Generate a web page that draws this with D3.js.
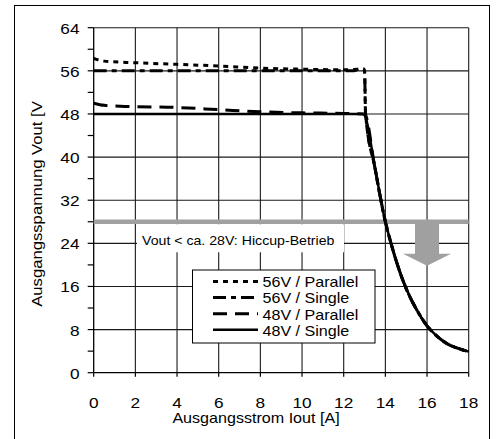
<!DOCTYPE html>
<html><head><meta charset="utf-8">
<script src="https://cdn.jsdelivr.net/npm/d3@7/dist/d3.min.js"></script>
<style>html,body{margin:0;padding:0;background:#fff;}svg{display:block;}</style>
</head><body>
<script>
// ---- data ----
const xTicks = [0,2,4,6,8,10,12,14,16,18];
const yTicks = [0,8,16,24,32,40,48,56,64];
const yMinorTicks = [4,12,20,28,36,44,52,60];
const seriesNames = ["56V / Parallel","56V / Single","48V / Parallel","48V / Single"];
const foldback = [[13.5,38],[14,28],[14.25,24.3],[14.5,21.0],[14.75,18.1],[15,15.6],[15.5,11.7],[16,8.7],[16.5,6.7],[17,5.3],[17.5,4.5],[18,3.9]];
const s56Parallel = [[0,58.3],[0.5,57.8],[2,57.5],[4,57.2],[6,56.9],[8,56.5],[10,56.3],[12,56.2],[12.9,56.3],[13.0,56],[13.05,48]].concat(foldback);
const s56Single = [[0,56],[4,56],[8,56],[12,56],[12.5,56],[12.7,56.3],[12.95,56.4],[13.0,56],[13.05,48]].concat(foldback);
const s48Parallel = [[0,50],[0.5,49.6],[1.5,49.4],[4,49.2],[6,48.8],[8,48.4],[10,48.2],[12,48.1],[13.0,48]].concat(foldback);
const s48Single = [[0,48],[4,48],[8,48],[12,48],[12.9,48],[13.0,47.8]].concat(foldback);
const hiccupLevel = 28;
const arrowX = 16;
const annotationText = "Vout < ca. 28V: Hiccup-Betrieb";
const xTitle = "Ausgangsstrom Iout [A]";
const yTitle = "Ausgangsspannung Vout [V";

// ---- drawing ----
const W = 496, H = 439;
const svg = d3.select("body").append("svg").attr("width", W).attr("height", H);
const FONT = "'Liberation Sans', Arial, sans-serif";
const SX = 1.15;
const x = d3.scaleLinear().domain([0,18]).range([93.7,468.7]);
const y = d3.scaleLinear().domain([0,64]).range([372.7,27.7]);

function txt(px, py, s, size, anchor, rot) {
  return svg.append("text")
    .attr("transform", `translate(${px},${py}) rotate(${rot||0}) scale(${SX},1)`)
    .attr("font-family", FONT).attr("font-size", size)
    .attr("text-anchor", anchor || "start").attr("fill", "#000").text(s);
}

// frame
svg.append("rect").attr("x",14.5).attr("y",5.5).attr("width",475).attr("height",440)
  .attr("fill","none").attr("stroke","#000").attr("stroke-width",1);

// grid
const grid = svg.append("g").attr("stroke","#1a1a1a").attr("stroke-width",1.1);
xTicks.filter(d=>d>0).forEach(d=>{
  grid.append("line").attr("x1",x(d)).attr("x2",x(d)).attr("y1",y(0)).attr("y2",y(64));
});
yTicks.filter(d=>d>0).forEach(d=>{
  grid.append("line").attr("x1",x(0)).attr("x2",x(18)).attr("y1",y(d)).attr("y2",y(d));
});
// axes
svg.append("line").attr("x1",x(0)).attr("x2",x(0)).attr("y1",y(0)).attr("y2",y(64)).attr("stroke","#000").attr("stroke-width",1.3);
svg.append("line").attr("x1",x(0)).attr("x2",x(18)).attr("y1",y(0)).attr("y2",y(0)).attr("stroke","#000").attr("stroke-width",1.3);
yTicks.concat(yMinorTicks).forEach(d=>{
  svg.append("line").attr("x1",x(0)-6).attr("x2",x(0)).attr("y1",y(d)).attr("y2",y(d)).attr("stroke","#000").attr("stroke-width",1.2);
});
xTicks.forEach(d=>{
  svg.append("line").attr("x1",x(d)).attr("x2",x(d)).attr("y1",y(0)).attr("y2",y(0)+4).attr("stroke","#000").attr("stroke-width",1.2);
});
yTicks.forEach(d=> txt(79.5, y(d)+6, String(d), 15, "end"));
xTicks.forEach(d=> txt(x(d), 408, String(d), 15, "middle"));
txt(256, 423, xTitle, 14, "middle");
txt(42, 204, yTitle, 14.5, "middle", -90);

// hiccup band
svg.append("line").attr("x1",x(0)).attr("x2",x(18)).attr("y1",y(hiccupLevel)).attr("y2",y(hiccupLevel))
  .attr("stroke","#a0a0a0").attr("stroke-width",4.5);
// annotation box
svg.append("rect").attr("x",137).attr("y",y(hiccupLevel)+2.5).attr("width",207).attr("height",28).attr("fill","#fff");
txt(142, 244.5, annotationText, 12.3, "start");
// arrow
const ax = x(arrowX), at = y(hiccupLevel)+2;
svg.append("path").attr("fill","#a0a0a0")
  .attr("d", `M${ax-12},${at} L${ax+12},${at} L${ax+12},${at+30} L${ax+24},${at+30} L${ax},${at+42} L${ax-24},${at+30} L${ax-12},${at+30} Z`);

// legend box
svg.append("rect").attr("x",192.5).attr("y",270).attr("width",182.5).attr("height",73)
  .attr("fill","#fff").attr("stroke","#000").attr("stroke-width",1);

// series
const styles = [
  {data:s56Parallel, dash:"5,5", w:3},
  {data:s56Single, dash:"13,5,5,5", w:3},
  {data:s48Parallel, dash:"14,8", w:3},
  {data:s48Single, dash:null, w:2.5}
];
const line = d3.line().x(d=>x(d[0])).y(d=>y(d[1])).curve(d3.curveMonotoneX);
styles.slice().reverse().forEach(s=>{
  svg.append("path").attr("d", line(s.data)).attr("fill","none").attr("stroke","#000")
    .attr("stroke-width", s.w).attr("stroke-dasharray", s.dash);
});
// legend entries
styles.forEach((s,i)=>{
  const ly = 281.5 + 16.1*i;
  svg.append("line").attr("x1",213).attr("x2",258).attr("y1",ly).attr("y2",ly)
    .attr("stroke","#000").attr("stroke-width",s.w).attr("stroke-dasharray",s.dash);
  txt(262.5, 287.3 + 16.1*i, seriesNames[i], 14, "start");
});
</script>
</body></html>
